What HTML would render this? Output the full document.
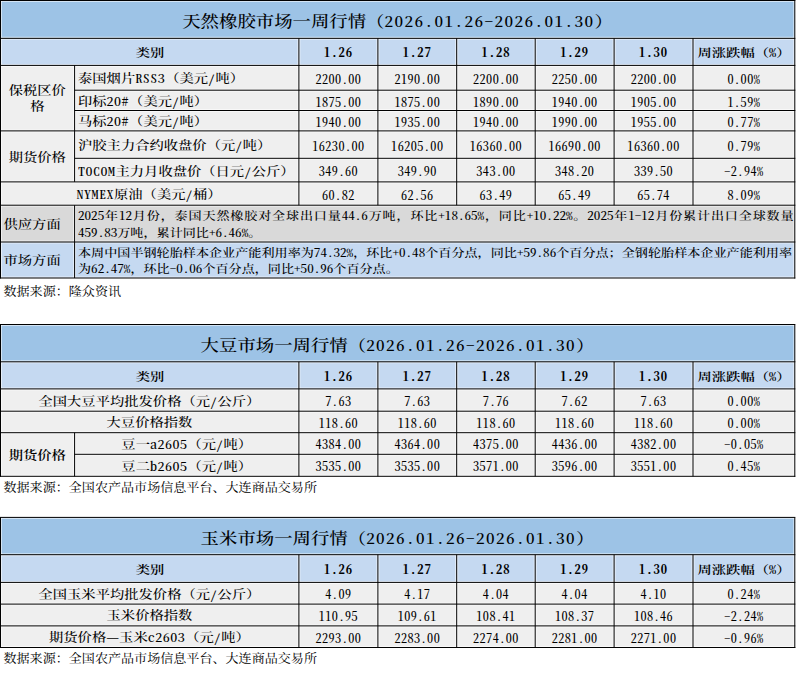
<!DOCTYPE html>
<html><head><meta charset="utf-8"><title>行情</title>
<style>
html,body{margin:0;padding:0;background:#fff;}
body{width:800px;height:673px;position:relative;overflow:hidden;font-family:"Noto Serif CJK SC","Liberation Serif",serif;color:#000;}
.r{position:absolute;}
.t{position:absolute;display:flex;align-items:center;white-space:nowrap;line-height:1;}
.h{font-feature-settings:"hwid" 1;}
.just>span{display:block;width:100%;text-align:justify;text-align-last:justify;}
.ln{position:absolute;left:0;top:0;}
</style></head><body>
<div class="r" style="left:0px;top:0px;width:795px;height:38px;background:#9dc3e6"></div>
<div class="t " style="left:0px;top:1.4px;width:795px;height:38px;justify-content:center;font-size:18.4px;font-weight:500;letter-spacing:0px;"><span style="transform:scaleY(0.86);">天然橡胶市场一周行情（<span class="h" style="font-size:17.2px;letter-spacing:1.4px;">2026.01.26-2026.01.30</span>）</span></div>
<div class="r" style="left:0px;top:38px;width:795px;height:28px;background:#c5d9f1"></div>
<div class="t " style="left:1px;top:38.85px;width:298px;height:27.050000000000004px;justify-content:center;font-size:14.3px;font-weight:600;letter-spacing:0px;"><span style="transform:scaleY(0.82);">类别</span></div>
<div class="t " style="left:298.9px;top:38.550000000000004px;width:79.0px;height:27.050000000000004px;justify-content:center;font-size:13.1px;font-weight:700;letter-spacing:1.2px;"><span style=""><span class="h" style="font-size:12.6px;letter-spacing:0.95px;">1.26</span></span></div>
<div class="t " style="left:377.9px;top:38.550000000000004px;width:78.80000000000001px;height:27.050000000000004px;justify-content:center;font-size:13.1px;font-weight:700;letter-spacing:1.2px;"><span style=""><span class="h" style="font-size:12.6px;letter-spacing:0.95px;">1.27</span></span></div>
<div class="t " style="left:456.7px;top:38.550000000000004px;width:78.50000000000006px;height:27.050000000000004px;justify-content:center;font-size:13.1px;font-weight:700;letter-spacing:1.2px;"><span style=""><span class="h" style="font-size:12.6px;letter-spacing:0.95px;">1.28</span></span></div>
<div class="t " style="left:535.2px;top:38.550000000000004px;width:78.89999999999998px;height:27.050000000000004px;justify-content:center;font-size:13.1px;font-weight:700;letter-spacing:1.2px;"><span style=""><span class="h" style="font-size:12.6px;letter-spacing:0.95px;">1.29</span></span></div>
<div class="t " style="left:614.1px;top:38.550000000000004px;width:78.89999999999998px;height:27.050000000000004px;justify-content:center;font-size:13.1px;font-weight:700;letter-spacing:1.2px;"><span style=""><span class="h" style="font-size:12.6px;letter-spacing:0.95px;">1.30</span></span></div>
<div class="t " style="left:693px;top:38.85px;width:102px;height:27.050000000000004px;justify-content:center;font-size:14.3px;font-weight:600;letter-spacing:0px;"><span style="transform:scaleY(0.82);">周涨跌幅（<span class="h">%</span>）</span></div>
<div class="r" style="left:0px;top:66px;width:795px;height:139px;background:#efefef"></div>
<div class="t " style="left:78px;top:66.0px;width:221px;height:24.799999999999997px;justify-content:flex-start;font-size:14.3px;font-weight:500;letter-spacing:0px;"><span style="transform:scaleY(0.84);">泰国烟片<span class="h" style="font-size:14.0px;letter-spacing:0.5px;">RSS3</span>（美元<span class="h" style="font-size:14.0px;letter-spacing:0.5px;">/</span>吨）</span></div>
<div class="t " style="left:298.9px;top:66.7px;width:79.0px;height:24.799999999999997px;justify-content:center;font-size:12.2px;font-weight:500;letter-spacing:0.45px;"><span style=""><span class="h" style="font-size:12.2px;letter-spacing:0.45px;">2200.00</span></span></div>
<div class="t " style="left:377.9px;top:66.7px;width:78.80000000000001px;height:24.799999999999997px;justify-content:center;font-size:12.2px;font-weight:500;letter-spacing:0.45px;"><span style=""><span class="h" style="font-size:12.2px;letter-spacing:0.45px;">2190.00</span></span></div>
<div class="t " style="left:456.7px;top:66.7px;width:78.50000000000006px;height:24.799999999999997px;justify-content:center;font-size:12.2px;font-weight:500;letter-spacing:0.45px;"><span style=""><span class="h" style="font-size:12.2px;letter-spacing:0.45px;">2200.00</span></span></div>
<div class="t " style="left:535.2px;top:66.7px;width:78.89999999999998px;height:24.799999999999997px;justify-content:center;font-size:12.2px;font-weight:500;letter-spacing:0.45px;"><span style=""><span class="h" style="font-size:12.2px;letter-spacing:0.45px;">2250.00</span></span></div>
<div class="t " style="left:614.1px;top:66.7px;width:78.89999999999998px;height:24.799999999999997px;justify-content:center;font-size:12.2px;font-weight:500;letter-spacing:0.45px;"><span style=""><span class="h" style="font-size:12.2px;letter-spacing:0.45px;">2200.00</span></span></div>
<div class="t " style="left:693.0px;top:66.7px;width:101.79999999999995px;height:24.799999999999997px;justify-content:center;font-size:12.2px;font-weight:500;letter-spacing:0.45px;"><span style=""><span class="h" style="font-size:12.2px;letter-spacing:0.45px;">0.00%</span></span></div>
<div class="t " style="left:78px;top:90.8px;width:221px;height:20.299999999999997px;justify-content:flex-start;font-size:14.3px;font-weight:500;letter-spacing:0px;"><span style="transform:scaleY(0.84);">印标<span class="h" style="font-size:14.0px;letter-spacing:0.5px;">20#</span>（美元<span class="h" style="font-size:14.0px;letter-spacing:0.5px;">/</span>吨）</span></div>
<div class="t " style="left:298.9px;top:91.5px;width:79.0px;height:20.299999999999997px;justify-content:center;font-size:12.2px;font-weight:500;letter-spacing:0.45px;"><span style=""><span class="h" style="font-size:12.2px;letter-spacing:0.45px;">1875.00</span></span></div>
<div class="t " style="left:377.9px;top:91.5px;width:78.80000000000001px;height:20.299999999999997px;justify-content:center;font-size:12.2px;font-weight:500;letter-spacing:0.45px;"><span style=""><span class="h" style="font-size:12.2px;letter-spacing:0.45px;">1875.00</span></span></div>
<div class="t " style="left:456.7px;top:91.5px;width:78.50000000000006px;height:20.299999999999997px;justify-content:center;font-size:12.2px;font-weight:500;letter-spacing:0.45px;"><span style=""><span class="h" style="font-size:12.2px;letter-spacing:0.45px;">1890.00</span></span></div>
<div class="t " style="left:535.2px;top:91.5px;width:78.89999999999998px;height:20.299999999999997px;justify-content:center;font-size:12.2px;font-weight:500;letter-spacing:0.45px;"><span style=""><span class="h" style="font-size:12.2px;letter-spacing:0.45px;">1940.00</span></span></div>
<div class="t " style="left:614.1px;top:91.5px;width:78.89999999999998px;height:20.299999999999997px;justify-content:center;font-size:12.2px;font-weight:500;letter-spacing:0.45px;"><span style=""><span class="h" style="font-size:12.2px;letter-spacing:0.45px;">1905.00</span></span></div>
<div class="t " style="left:693.0px;top:91.5px;width:101.79999999999995px;height:20.299999999999997px;justify-content:center;font-size:12.2px;font-weight:500;letter-spacing:0.45px;"><span style=""><span class="h" style="font-size:12.2px;letter-spacing:0.45px;">1.59%</span></span></div>
<div class="t " style="left:78px;top:111.1px;width:221px;height:20.400000000000006px;justify-content:flex-start;font-size:14.3px;font-weight:500;letter-spacing:0px;"><span style="transform:scaleY(0.84);">马标<span class="h" style="font-size:14.0px;letter-spacing:0.5px;">20#</span>（美元<span class="h" style="font-size:14.0px;letter-spacing:0.5px;">/</span>吨）</span></div>
<div class="t " style="left:298.9px;top:111.8px;width:79.0px;height:20.400000000000006px;justify-content:center;font-size:12.2px;font-weight:500;letter-spacing:0.45px;"><span style=""><span class="h" style="font-size:12.2px;letter-spacing:0.45px;">1940.00</span></span></div>
<div class="t " style="left:377.9px;top:111.8px;width:78.80000000000001px;height:20.400000000000006px;justify-content:center;font-size:12.2px;font-weight:500;letter-spacing:0.45px;"><span style=""><span class="h" style="font-size:12.2px;letter-spacing:0.45px;">1935.00</span></span></div>
<div class="t " style="left:456.7px;top:111.8px;width:78.50000000000006px;height:20.400000000000006px;justify-content:center;font-size:12.2px;font-weight:500;letter-spacing:0.45px;"><span style=""><span class="h" style="font-size:12.2px;letter-spacing:0.45px;">1940.00</span></span></div>
<div class="t " style="left:535.2px;top:111.8px;width:78.89999999999998px;height:20.400000000000006px;justify-content:center;font-size:12.2px;font-weight:500;letter-spacing:0.45px;"><span style=""><span class="h" style="font-size:12.2px;letter-spacing:0.45px;">1990.00</span></span></div>
<div class="t " style="left:614.1px;top:111.8px;width:78.89999999999998px;height:20.400000000000006px;justify-content:center;font-size:12.2px;font-weight:500;letter-spacing:0.45px;"><span style=""><span class="h" style="font-size:12.2px;letter-spacing:0.45px;">1955.00</span></span></div>
<div class="t " style="left:693.0px;top:111.8px;width:101.79999999999995px;height:20.400000000000006px;justify-content:center;font-size:12.2px;font-weight:500;letter-spacing:0.45px;"><span style=""><span class="h" style="font-size:12.2px;letter-spacing:0.45px;">0.77%</span></span></div>
<div class="t " style="left:78px;top:131.5px;width:221px;height:27.400000000000006px;justify-content:flex-start;font-size:14.3px;font-weight:500;letter-spacing:0px;"><span style="transform:scaleY(0.84);">沪胶主力合约收盘价（元<span class="h" style="font-size:14.0px;letter-spacing:0.5px;">/</span>吨）</span></div>
<div class="t " style="left:298.9px;top:132.20000000000002px;width:79.0px;height:27.400000000000006px;justify-content:center;font-size:12.2px;font-weight:500;letter-spacing:0.45px;"><span style=""><span class="h" style="font-size:12.2px;letter-spacing:0.45px;">16230.00</span></span></div>
<div class="t " style="left:377.9px;top:132.20000000000002px;width:78.80000000000001px;height:27.400000000000006px;justify-content:center;font-size:12.2px;font-weight:500;letter-spacing:0.45px;"><span style=""><span class="h" style="font-size:12.2px;letter-spacing:0.45px;">16205.00</span></span></div>
<div class="t " style="left:456.7px;top:132.20000000000002px;width:78.50000000000006px;height:27.400000000000006px;justify-content:center;font-size:12.2px;font-weight:500;letter-spacing:0.45px;"><span style=""><span class="h" style="font-size:12.2px;letter-spacing:0.45px;">16360.00</span></span></div>
<div class="t " style="left:535.2px;top:132.20000000000002px;width:78.89999999999998px;height:27.400000000000006px;justify-content:center;font-size:12.2px;font-weight:500;letter-spacing:0.45px;"><span style=""><span class="h" style="font-size:12.2px;letter-spacing:0.45px;">16690.00</span></span></div>
<div class="t " style="left:614.1px;top:132.20000000000002px;width:78.89999999999998px;height:27.400000000000006px;justify-content:center;font-size:12.2px;font-weight:500;letter-spacing:0.45px;"><span style=""><span class="h" style="font-size:12.2px;letter-spacing:0.45px;">16360.00</span></span></div>
<div class="t " style="left:693.0px;top:132.20000000000002px;width:101.79999999999995px;height:27.400000000000006px;justify-content:center;font-size:12.2px;font-weight:500;letter-spacing:0.45px;"><span style=""><span class="h" style="font-size:12.2px;letter-spacing:0.45px;">0.79%</span></span></div>
<div class="t " style="left:78px;top:158.9px;width:221px;height:23.599999999999994px;justify-content:flex-start;font-size:14.3px;font-weight:500;letter-spacing:0px;"><span style="transform:scaleY(0.84);"><span class="h" style="font-size:14.0px;letter-spacing:0.5px;">TOCOM</span>主力月收盘价（日元<span class="h" style="font-size:14.0px;letter-spacing:0.5px;">/</span>公斤）</span></div>
<div class="t " style="left:298.9px;top:159.60000000000002px;width:79.0px;height:23.599999999999994px;justify-content:center;font-size:12.2px;font-weight:500;letter-spacing:0.45px;"><span style=""><span class="h" style="font-size:12.2px;letter-spacing:0.45px;">349.60</span></span></div>
<div class="t " style="left:377.9px;top:159.60000000000002px;width:78.80000000000001px;height:23.599999999999994px;justify-content:center;font-size:12.2px;font-weight:500;letter-spacing:0.45px;"><span style=""><span class="h" style="font-size:12.2px;letter-spacing:0.45px;">349.90</span></span></div>
<div class="t " style="left:456.7px;top:159.60000000000002px;width:78.50000000000006px;height:23.599999999999994px;justify-content:center;font-size:12.2px;font-weight:500;letter-spacing:0.45px;"><span style=""><span class="h" style="font-size:12.2px;letter-spacing:0.45px;">343.00</span></span></div>
<div class="t " style="left:535.2px;top:159.60000000000002px;width:78.89999999999998px;height:23.599999999999994px;justify-content:center;font-size:12.2px;font-weight:500;letter-spacing:0.45px;"><span style=""><span class="h" style="font-size:12.2px;letter-spacing:0.45px;">348.20</span></span></div>
<div class="t " style="left:614.1px;top:159.60000000000002px;width:78.89999999999998px;height:23.599999999999994px;justify-content:center;font-size:12.2px;font-weight:500;letter-spacing:0.45px;"><span style=""><span class="h" style="font-size:12.2px;letter-spacing:0.45px;">339.50</span></span></div>
<div class="t " style="left:693.0px;top:159.60000000000002px;width:101.79999999999995px;height:23.599999999999994px;justify-content:center;font-size:12.2px;font-weight:500;letter-spacing:0.45px;"><span style=""><span class="h" style="font-size:12.2px;letter-spacing:0.45px;">-2.94%</span></span></div>
<div class="t " style="left:0px;top:65.4px;width:74.6px;height:65.5px;justify-content:center;font-size:14.3px;font-weight:500;letter-spacing:0px;line-height:20.3px;text-align:center"><span style="transform:scaleY(0.84);">保税区价<br>格</span></div>
<div class="t " style="left:0px;top:131.9px;width:74.6px;height:51.0px;justify-content:center;font-size:14.3px;font-weight:500;letter-spacing:0px;"><span style="transform:scaleY(0.84);">期货价格</span></div>
<div class="t " style="left:76.5px;top:182.5px;width:222.5px;height:23.299999999999983px;justify-content:flex-start;font-size:14.3px;font-weight:500;letter-spacing:0px;"><span style="transform:scaleY(0.84);"><span class="h" style="font-size:14.0px;letter-spacing:0.5px;">NYMEX</span>原油（美元<span class="h" style="font-size:14.0px;letter-spacing:0.5px;">/</span>桶）</span></div>
<div class="t " style="left:298.9px;top:183.20000000000002px;width:79.0px;height:23.299999999999983px;justify-content:center;font-size:12.2px;font-weight:500;letter-spacing:0.45px;"><span style=""><span class="h" style="font-size:12.2px;letter-spacing:0.45px;">60.82</span></span></div>
<div class="t " style="left:377.9px;top:183.20000000000002px;width:78.80000000000001px;height:23.299999999999983px;justify-content:center;font-size:12.2px;font-weight:500;letter-spacing:0.45px;"><span style=""><span class="h" style="font-size:12.2px;letter-spacing:0.45px;">62.56</span></span></div>
<div class="t " style="left:456.7px;top:183.20000000000002px;width:78.50000000000006px;height:23.299999999999983px;justify-content:center;font-size:12.2px;font-weight:500;letter-spacing:0.45px;"><span style=""><span class="h" style="font-size:12.2px;letter-spacing:0.45px;">63.49</span></span></div>
<div class="t " style="left:535.2px;top:183.20000000000002px;width:78.89999999999998px;height:23.299999999999983px;justify-content:center;font-size:12.2px;font-weight:500;letter-spacing:0.45px;"><span style=""><span class="h" style="font-size:12.2px;letter-spacing:0.45px;">65.49</span></span></div>
<div class="t " style="left:614.1px;top:183.20000000000002px;width:78.89999999999998px;height:23.299999999999983px;justify-content:center;font-size:12.2px;font-weight:500;letter-spacing:0.45px;"><span style=""><span class="h" style="font-size:12.2px;letter-spacing:0.45px;">65.74</span></span></div>
<div class="t " style="left:693.0px;top:183.20000000000002px;width:101.79999999999995px;height:23.299999999999983px;justify-content:center;font-size:12.2px;font-weight:500;letter-spacing:0.45px;"><span style=""><span class="h" style="font-size:12.2px;letter-spacing:0.45px;">8.09%</span></span></div>
<div class="r" style="left:0px;top:205px;width:795px;height:37px;background:#d9d9d9"></div>
<div class="r" style="left:0px;top:242px;width:795px;height:36px;background:#c5d9f1"></div>
<div class="t " style="left:3.5px;top:206.0px;width:71.1px;height:36.80000000000001px;justify-content:flex-start;font-size:14.3px;font-weight:500;letter-spacing:0px;"><span style="transform:scaleY(0.84);">供应方面</span></div>
<div class="t " style="left:3.5px;top:242.5px;width:71.1px;height:36px;justify-content:flex-start;font-size:14.3px;font-weight:500;letter-spacing:0px;"><span style="transform:scaleY(0.84);">市场方面</span></div>
<div class="t just" style="left:78px;top:207px;width:715.6px;height:18px;justify-content:flex-start;font-size:13.1px;font-weight:500;letter-spacing:0px;"><span style="transform:scaleY(0.85);"><span class="h" style="font-size:13.1px;letter-spacing:0px;">2025</span>年<span class="h" style="font-size:13.1px;letter-spacing:0px;">12</span>月份，泰国天然橡胶对全球出口量<span class="h" style="font-size:13.1px;letter-spacing:0px;">44.6</span>万吨，环比<span class="h" style="font-size:13.1px;letter-spacing:0px;">+18.65%</span>，同比<span class="h" style="font-size:13.1px;letter-spacing:0px;">+10.22%</span>。<span class="h" style="font-size:13.1px;letter-spacing:0px;">2025</span>年<span class="h" style="font-size:13.1px;letter-spacing:0px;">1-12</span>月份累计出口全球数量</span></div>
<div class="t " style="left:78px;top:223.5px;width:715.6px;height:18.0px;justify-content:flex-start;font-size:13.1px;font-weight:500;letter-spacing:0px;"><span style="transform:scaleY(0.85);"><span class="h" style="font-size:13.1px;letter-spacing:0px;">459.83</span>万吨，累计同比<span class="h" style="font-size:13.1px;letter-spacing:0px;">+6.46%</span>。</span></div>
<div class="t just" style="left:78px;top:243.2px;width:714px;height:18.0px;justify-content:flex-start;font-size:13.1px;font-weight:500;letter-spacing:0px;"><span style="transform:scaleY(0.85);">本周中国半钢轮胎样本企业产能利用率为<span class="h" style="font-size:13.1px;letter-spacing:0px;">74.32%</span>，环比<span class="h" style="font-size:13.1px;letter-spacing:0px;">+0.48</span>个百分点，同比<span class="h" style="font-size:13.1px;letter-spacing:0px;">+59.86</span>个百分点；全钢轮胎样本企业产能利用率</span></div>
<div class="t " style="left:78px;top:259.7px;width:714px;height:18.0px;justify-content:flex-start;font-size:13.1px;font-weight:500;letter-spacing:0px;"><span style="transform:scaleY(0.85);">为<span class="h" style="font-size:13.1px;letter-spacing:0px;">62.47%</span>，环比<span class="h" style="font-size:13.1px;letter-spacing:0px;">-0.06</span>个百分点，同比<span class="h" style="font-size:13.1px;letter-spacing:0px;">+50.96</span>个百分点。</span></div>
<div class="t " style="left:3.5px;top:282px;width:396.5px;height:18px;justify-content:flex-start;font-size:13.07px;font-weight:400;letter-spacing:0px;"><span style="transform:scaleY(0.94);">数据来源：隆众资讯</span></div>
<div class="r" style="left:0px;top:324.5px;width:795px;height:37.5px;background:#9dc3e6"></div>
<div class="t " style="left:0px;top:325.9px;width:795px;height:37.30000000000001px;justify-content:center;font-size:18.4px;font-weight:500;letter-spacing:0px;"><span style="transform:scaleY(0.86);">大豆市场一周行情（<span class="h" style="font-size:17.2px;letter-spacing:1.4px;">2026.01.26-2026.01.30</span>）</span></div>
<div class="r" style="left:0px;top:362px;width:795px;height:27px;background:#c5d9f1"></div>
<div class="t " style="left:1px;top:362.3px;width:298px;height:27.099999999999966px;justify-content:center;font-size:14.3px;font-weight:600;letter-spacing:0px;"><span style="transform:scaleY(0.82);">类别</span></div>
<div class="t " style="left:298.9px;top:362.0px;width:79.0px;height:27.099999999999966px;justify-content:center;font-size:13.1px;font-weight:700;letter-spacing:1.2px;"><span style=""><span class="h" style="font-size:12.6px;letter-spacing:0.95px;">1.26</span></span></div>
<div class="t " style="left:377.9px;top:362.0px;width:78.80000000000001px;height:27.099999999999966px;justify-content:center;font-size:13.1px;font-weight:700;letter-spacing:1.2px;"><span style=""><span class="h" style="font-size:12.6px;letter-spacing:0.95px;">1.27</span></span></div>
<div class="t " style="left:456.7px;top:362.0px;width:78.50000000000006px;height:27.099999999999966px;justify-content:center;font-size:13.1px;font-weight:700;letter-spacing:1.2px;"><span style=""><span class="h" style="font-size:12.6px;letter-spacing:0.95px;">1.28</span></span></div>
<div class="t " style="left:535.2px;top:362.0px;width:78.89999999999998px;height:27.099999999999966px;justify-content:center;font-size:13.1px;font-weight:700;letter-spacing:1.2px;"><span style=""><span class="h" style="font-size:12.6px;letter-spacing:0.95px;">1.29</span></span></div>
<div class="t " style="left:614.1px;top:362.0px;width:78.89999999999998px;height:27.099999999999966px;justify-content:center;font-size:13.1px;font-weight:700;letter-spacing:1.2px;"><span style=""><span class="h" style="font-size:12.6px;letter-spacing:0.95px;">1.30</span></span></div>
<div class="t " style="left:693px;top:362.3px;width:102px;height:27.099999999999966px;justify-content:center;font-size:14.3px;font-weight:600;letter-spacing:0px;"><span style="transform:scaleY(0.82);">周涨跌幅（<span class="h">%</span>）</span></div>
<div class="r" style="left:0px;top:389px;width:795px;height:87px;background:#efefef"></div>
<div class="t " style="left:0px;top:389.5px;width:298.9px;height:22.30000000000001px;justify-content:center;font-size:14.3px;font-weight:500;letter-spacing:0px;"><span style="transform:scaleY(0.84);">全国大豆平均批发价格（元<span class="h" style="font-size:14.0px;letter-spacing:0.5px;">/</span>公斤）</span></div>
<div class="t " style="left:298.9px;top:389.7px;width:79.0px;height:22.30000000000001px;justify-content:center;font-size:12.2px;font-weight:500;letter-spacing:0.45px;"><span style=""><span class="h" style="font-size:12.2px;letter-spacing:0.45px;">7.63</span></span></div>
<div class="t " style="left:377.9px;top:389.7px;width:78.80000000000001px;height:22.30000000000001px;justify-content:center;font-size:12.2px;font-weight:500;letter-spacing:0.45px;"><span style=""><span class="h" style="font-size:12.2px;letter-spacing:0.45px;">7.63</span></span></div>
<div class="t " style="left:456.7px;top:389.7px;width:78.50000000000006px;height:22.30000000000001px;justify-content:center;font-size:12.2px;font-weight:500;letter-spacing:0.45px;"><span style=""><span class="h" style="font-size:12.2px;letter-spacing:0.45px;">7.76</span></span></div>
<div class="t " style="left:535.2px;top:389.7px;width:78.89999999999998px;height:22.30000000000001px;justify-content:center;font-size:12.2px;font-weight:500;letter-spacing:0.45px;"><span style=""><span class="h" style="font-size:12.2px;letter-spacing:0.45px;">7.62</span></span></div>
<div class="t " style="left:614.1px;top:389.7px;width:78.89999999999998px;height:22.30000000000001px;justify-content:center;font-size:12.2px;font-weight:500;letter-spacing:0.45px;"><span style=""><span class="h" style="font-size:12.2px;letter-spacing:0.45px;">7.63</span></span></div>
<div class="t " style="left:693.0px;top:389.7px;width:101.79999999999995px;height:22.30000000000001px;justify-content:center;font-size:12.2px;font-weight:500;letter-spacing:0.45px;"><span style=""><span class="h" style="font-size:12.2px;letter-spacing:0.45px;">0.00%</span></span></div>
<div class="t " style="left:0px;top:411.8px;width:298.9px;height:21.5px;justify-content:center;font-size:14.3px;font-weight:500;letter-spacing:0px;"><span style="transform:scaleY(0.84);">大豆价格指数</span></div>
<div class="t " style="left:298.9px;top:412.0px;width:79.0px;height:21.5px;justify-content:center;font-size:12.2px;font-weight:500;letter-spacing:0.45px;"><span style=""><span class="h" style="font-size:12.2px;letter-spacing:0.45px;">118.60</span></span></div>
<div class="t " style="left:377.9px;top:412.0px;width:78.80000000000001px;height:21.5px;justify-content:center;font-size:12.2px;font-weight:500;letter-spacing:0.45px;"><span style=""><span class="h" style="font-size:12.2px;letter-spacing:0.45px;">118.60</span></span></div>
<div class="t " style="left:456.7px;top:412.0px;width:78.50000000000006px;height:21.5px;justify-content:center;font-size:12.2px;font-weight:500;letter-spacing:0.45px;"><span style=""><span class="h" style="font-size:12.2px;letter-spacing:0.45px;">118.60</span></span></div>
<div class="t " style="left:535.2px;top:412.0px;width:78.89999999999998px;height:21.5px;justify-content:center;font-size:12.2px;font-weight:500;letter-spacing:0.45px;"><span style=""><span class="h" style="font-size:12.2px;letter-spacing:0.45px;">118.60</span></span></div>
<div class="t " style="left:614.1px;top:412.0px;width:78.89999999999998px;height:21.5px;justify-content:center;font-size:12.2px;font-weight:500;letter-spacing:0.45px;"><span style=""><span class="h" style="font-size:12.2px;letter-spacing:0.45px;">118.60</span></span></div>
<div class="t " style="left:693.0px;top:412.0px;width:101.79999999999995px;height:21.5px;justify-content:center;font-size:12.2px;font-weight:500;letter-spacing:0.45px;"><span style=""><span class="h" style="font-size:12.2px;letter-spacing:0.45px;">0.00%</span></span></div>
<div class="t " style="left:0px;top:433.7px;width:74.6px;height:43.60000000000002px;justify-content:center;font-size:14.3px;font-weight:600;letter-spacing:0px;"><span style="transform:scaleY(0.84);">期货价格</span></div>
<div class="t " style="left:74.6px;top:433.3px;width:224.29999999999998px;height:21.600000000000023px;justify-content:center;font-size:14.3px;font-weight:500;letter-spacing:0px;"><span style="transform:scaleY(0.84);">豆一<span class="h" style="font-size:14.0px;letter-spacing:0.5px;">a2605</span>（元<span class="h" style="font-size:14.0px;letter-spacing:0.5px;">/</span>吨）</span></div>
<div class="t " style="left:298.9px;top:433.5px;width:79.0px;height:21.600000000000023px;justify-content:center;font-size:12.2px;font-weight:500;letter-spacing:0.45px;"><span style=""><span class="h" style="font-size:12.2px;letter-spacing:0.45px;">4384.00</span></span></div>
<div class="t " style="left:377.9px;top:433.5px;width:78.80000000000001px;height:21.600000000000023px;justify-content:center;font-size:12.2px;font-weight:500;letter-spacing:0.45px;"><span style=""><span class="h" style="font-size:12.2px;letter-spacing:0.45px;">4364.00</span></span></div>
<div class="t " style="left:456.7px;top:433.5px;width:78.50000000000006px;height:21.600000000000023px;justify-content:center;font-size:12.2px;font-weight:500;letter-spacing:0.45px;"><span style=""><span class="h" style="font-size:12.2px;letter-spacing:0.45px;">4375.00</span></span></div>
<div class="t " style="left:535.2px;top:433.5px;width:78.89999999999998px;height:21.600000000000023px;justify-content:center;font-size:12.2px;font-weight:500;letter-spacing:0.45px;"><span style=""><span class="h" style="font-size:12.2px;letter-spacing:0.45px;">4436.00</span></span></div>
<div class="t " style="left:614.1px;top:433.5px;width:78.89999999999998px;height:21.600000000000023px;justify-content:center;font-size:12.2px;font-weight:500;letter-spacing:0.45px;"><span style=""><span class="h" style="font-size:12.2px;letter-spacing:0.45px;">4382.00</span></span></div>
<div class="t " style="left:693.0px;top:433.5px;width:101.79999999999995px;height:21.600000000000023px;justify-content:center;font-size:12.2px;font-weight:500;letter-spacing:0.45px;"><span style=""><span class="h" style="font-size:12.2px;letter-spacing:0.45px;">-0.05%</span></span></div>
<div class="t " style="left:74.6px;top:454.90000000000003px;width:224.29999999999998px;height:22.0px;justify-content:center;font-size:14.3px;font-weight:500;letter-spacing:0px;"><span style="transform:scaleY(0.84);">豆二<span class="h" style="font-size:14.0px;letter-spacing:0.5px;">b2605</span>（元<span class="h" style="font-size:14.0px;letter-spacing:0.5px;">/</span>吨）</span></div>
<div class="t " style="left:298.9px;top:455.1px;width:79.0px;height:22.0px;justify-content:center;font-size:12.2px;font-weight:500;letter-spacing:0.45px;"><span style=""><span class="h" style="font-size:12.2px;letter-spacing:0.45px;">3535.00</span></span></div>
<div class="t " style="left:377.9px;top:455.1px;width:78.80000000000001px;height:22.0px;justify-content:center;font-size:12.2px;font-weight:500;letter-spacing:0.45px;"><span style=""><span class="h" style="font-size:12.2px;letter-spacing:0.45px;">3535.00</span></span></div>
<div class="t " style="left:456.7px;top:455.1px;width:78.50000000000006px;height:22.0px;justify-content:center;font-size:12.2px;font-weight:500;letter-spacing:0.45px;"><span style=""><span class="h" style="font-size:12.2px;letter-spacing:0.45px;">3571.00</span></span></div>
<div class="t " style="left:535.2px;top:455.1px;width:78.89999999999998px;height:22.0px;justify-content:center;font-size:12.2px;font-weight:500;letter-spacing:0.45px;"><span style=""><span class="h" style="font-size:12.2px;letter-spacing:0.45px;">3596.00</span></span></div>
<div class="t " style="left:614.1px;top:455.1px;width:78.89999999999998px;height:22.0px;justify-content:center;font-size:12.2px;font-weight:500;letter-spacing:0.45px;"><span style=""><span class="h" style="font-size:12.2px;letter-spacing:0.45px;">3551.00</span></span></div>
<div class="t " style="left:693.0px;top:455.1px;width:101.79999999999995px;height:22.0px;justify-content:center;font-size:12.2px;font-weight:500;letter-spacing:0.45px;"><span style=""><span class="h" style="font-size:12.2px;letter-spacing:0.45px;">0.45%</span></span></div>
<div class="t " style="left:3.5px;top:478px;width:496.5px;height:18px;justify-content:flex-start;font-size:13.07px;font-weight:400;letter-spacing:0px;"><span style="transform:scaleY(0.94);">数据来源：全国农产品市场信息平台、大连商品交易所</span></div>
<div class="r" style="left:0px;top:517.4px;width:795px;height:37.60000000000002px;background:#9dc3e6"></div>
<div class="t " style="left:0px;top:518.8px;width:795px;height:37.30000000000007px;justify-content:center;font-size:18.4px;font-weight:500;letter-spacing:0px;"><span style="transform:scaleY(0.86);">玉米市场一周行情（<span class="h" style="font-size:17.2px;letter-spacing:1.4px;">2026.01.26-2026.01.30</span>）</span></div>
<div class="r" style="left:0px;top:555px;width:795px;height:27.399999999999977px;background:#c5d9f1"></div>
<div class="t " style="left:1px;top:555.2px;width:298px;height:27.699999999999932px;justify-content:center;font-size:14.3px;font-weight:600;letter-spacing:0px;"><span style="transform:scaleY(0.82);">类别</span></div>
<div class="t " style="left:298.9px;top:554.9000000000001px;width:79.0px;height:27.699999999999932px;justify-content:center;font-size:13.1px;font-weight:700;letter-spacing:1.2px;"><span style=""><span class="h" style="font-size:12.6px;letter-spacing:0.95px;">1.26</span></span></div>
<div class="t " style="left:377.9px;top:554.9000000000001px;width:78.80000000000001px;height:27.699999999999932px;justify-content:center;font-size:13.1px;font-weight:700;letter-spacing:1.2px;"><span style=""><span class="h" style="font-size:12.6px;letter-spacing:0.95px;">1.27</span></span></div>
<div class="t " style="left:456.7px;top:554.9000000000001px;width:78.50000000000006px;height:27.699999999999932px;justify-content:center;font-size:13.1px;font-weight:700;letter-spacing:1.2px;"><span style=""><span class="h" style="font-size:12.6px;letter-spacing:0.95px;">1.28</span></span></div>
<div class="t " style="left:535.2px;top:554.9000000000001px;width:78.89999999999998px;height:27.699999999999932px;justify-content:center;font-size:13.1px;font-weight:700;letter-spacing:1.2px;"><span style=""><span class="h" style="font-size:12.6px;letter-spacing:0.95px;">1.29</span></span></div>
<div class="t " style="left:614.1px;top:554.9000000000001px;width:78.89999999999998px;height:27.699999999999932px;justify-content:center;font-size:13.1px;font-weight:700;letter-spacing:1.2px;"><span style=""><span class="h" style="font-size:12.6px;letter-spacing:0.95px;">1.30</span></span></div>
<div class="t " style="left:693px;top:555.2px;width:102px;height:27.699999999999932px;justify-content:center;font-size:14.3px;font-weight:600;letter-spacing:0px;"><span style="transform:scaleY(0.82);">周涨跌幅（<span class="h">%</span>）</span></div>
<div class="r" style="left:0px;top:582.4px;width:795px;height:65.10000000000002px;background:#efefef"></div>
<div class="t " style="left:0px;top:583.0px;width:298.9px;height:21.700000000000045px;justify-content:center;font-size:14.3px;font-weight:500;letter-spacing:0px;"><span style="transform:scaleY(0.84);">全国玉米平均批发价格（元<span class="h" style="font-size:14.0px;letter-spacing:0.5px;">/</span>公斤）</span></div>
<div class="t " style="left:298.9px;top:583.6999999999999px;width:79.0px;height:21.700000000000045px;justify-content:center;font-size:12.2px;font-weight:500;letter-spacing:0.45px;"><span style=""><span class="h" style="font-size:12.2px;letter-spacing:0.45px;">4.09</span></span></div>
<div class="t " style="left:377.9px;top:583.6999999999999px;width:78.80000000000001px;height:21.700000000000045px;justify-content:center;font-size:12.2px;font-weight:500;letter-spacing:0.45px;"><span style=""><span class="h" style="font-size:12.2px;letter-spacing:0.45px;">4.17</span></span></div>
<div class="t " style="left:456.7px;top:583.6999999999999px;width:78.50000000000006px;height:21.700000000000045px;justify-content:center;font-size:12.2px;font-weight:500;letter-spacing:0.45px;"><span style=""><span class="h" style="font-size:12.2px;letter-spacing:0.45px;">4.04</span></span></div>
<div class="t " style="left:535.2px;top:583.6999999999999px;width:78.89999999999998px;height:21.700000000000045px;justify-content:center;font-size:12.2px;font-weight:500;letter-spacing:0.45px;"><span style=""><span class="h" style="font-size:12.2px;letter-spacing:0.45px;">4.04</span></span></div>
<div class="t " style="left:614.1px;top:583.6999999999999px;width:78.89999999999998px;height:21.700000000000045px;justify-content:center;font-size:12.2px;font-weight:500;letter-spacing:0.45px;"><span style=""><span class="h" style="font-size:12.2px;letter-spacing:0.45px;">4.10</span></span></div>
<div class="t " style="left:693.0px;top:583.6999999999999px;width:101.79999999999995px;height:21.700000000000045px;justify-content:center;font-size:12.2px;font-weight:500;letter-spacing:0.45px;"><span style=""><span class="h" style="font-size:12.2px;letter-spacing:0.45px;">0.24%</span></span></div>
<div class="t " style="left:0px;top:604.7px;width:298.9px;height:21.799999999999955px;justify-content:center;font-size:14.3px;font-weight:500;letter-spacing:0px;"><span style="transform:scaleY(0.84);">玉米价格指数</span></div>
<div class="t " style="left:298.9px;top:605.4px;width:79.0px;height:21.799999999999955px;justify-content:center;font-size:12.2px;font-weight:500;letter-spacing:0.45px;"><span style=""><span class="h" style="font-size:12.2px;letter-spacing:0.45px;">110.95</span></span></div>
<div class="t " style="left:377.9px;top:605.4px;width:78.80000000000001px;height:21.799999999999955px;justify-content:center;font-size:12.2px;font-weight:500;letter-spacing:0.45px;"><span style=""><span class="h" style="font-size:12.2px;letter-spacing:0.45px;">109.61</span></span></div>
<div class="t " style="left:456.7px;top:605.4px;width:78.50000000000006px;height:21.799999999999955px;justify-content:center;font-size:12.2px;font-weight:500;letter-spacing:0.45px;"><span style=""><span class="h" style="font-size:12.2px;letter-spacing:0.45px;">108.41</span></span></div>
<div class="t " style="left:535.2px;top:605.4px;width:78.89999999999998px;height:21.799999999999955px;justify-content:center;font-size:12.2px;font-weight:500;letter-spacing:0.45px;"><span style=""><span class="h" style="font-size:12.2px;letter-spacing:0.45px;">108.37</span></span></div>
<div class="t " style="left:614.1px;top:605.4px;width:78.89999999999998px;height:21.799999999999955px;justify-content:center;font-size:12.2px;font-weight:500;letter-spacing:0.45px;"><span style=""><span class="h" style="font-size:12.2px;letter-spacing:0.45px;">108.46</span></span></div>
<div class="t " style="left:693.0px;top:605.4px;width:101.79999999999995px;height:21.799999999999955px;justify-content:center;font-size:12.2px;font-weight:500;letter-spacing:0.45px;"><span style=""><span class="h" style="font-size:12.2px;letter-spacing:0.45px;">-2.24%</span></span></div>
<div class="t " style="left:0px;top:626.5px;width:298.9px;height:21.600000000000023px;justify-content:center;font-size:14.3px;font-weight:500;letter-spacing:0px;"><span style="transform:scaleY(0.84);">期货价格—玉米<span class="h" style="font-size:14.0px;letter-spacing:0.5px;">c2603</span>（元<span class="h" style="font-size:14.0px;letter-spacing:0.5px;">/</span>吨）</span></div>
<div class="t " style="left:298.9px;top:627.1999999999999px;width:79.0px;height:21.600000000000023px;justify-content:center;font-size:12.2px;font-weight:500;letter-spacing:0.45px;"><span style=""><span class="h" style="font-size:12.2px;letter-spacing:0.45px;">2293.00</span></span></div>
<div class="t " style="left:377.9px;top:627.1999999999999px;width:78.80000000000001px;height:21.600000000000023px;justify-content:center;font-size:12.2px;font-weight:500;letter-spacing:0.45px;"><span style=""><span class="h" style="font-size:12.2px;letter-spacing:0.45px;">2283.00</span></span></div>
<div class="t " style="left:456.7px;top:627.1999999999999px;width:78.50000000000006px;height:21.600000000000023px;justify-content:center;font-size:12.2px;font-weight:500;letter-spacing:0.45px;"><span style=""><span class="h" style="font-size:12.2px;letter-spacing:0.45px;">2274.00</span></span></div>
<div class="t " style="left:535.2px;top:627.1999999999999px;width:78.89999999999998px;height:21.600000000000023px;justify-content:center;font-size:12.2px;font-weight:500;letter-spacing:0.45px;"><span style=""><span class="h" style="font-size:12.2px;letter-spacing:0.45px;">2281.00</span></span></div>
<div class="t " style="left:614.1px;top:627.1999999999999px;width:78.89999999999998px;height:21.600000000000023px;justify-content:center;font-size:12.2px;font-weight:500;letter-spacing:0.45px;"><span style=""><span class="h" style="font-size:12.2px;letter-spacing:0.45px;">2271.00</span></span></div>
<div class="t " style="left:693.0px;top:627.1999999999999px;width:101.79999999999995px;height:21.600000000000023px;justify-content:center;font-size:12.2px;font-weight:500;letter-spacing:0.45px;"><span style=""><span class="h" style="font-size:12.2px;letter-spacing:0.45px;">-0.96%</span></span></div>
<div class="t " style="left:3.5px;top:649px;width:496.5px;height:18px;justify-content:flex-start;font-size:13.07px;font-weight:400;letter-spacing:0px;"><span style="transform:scaleY(0.94);">数据来源：全国农产品市场信息平台、大连商品交易所</span></div>
<svg class="ln" width="800" height="673" viewBox="0 0 800 673"><g stroke="#fff" stroke-opacity="0.55" transform="scale(1)" style="stroke-width:3px"><line x1="0" y1="0.5" x2="795.3" y2="0.5" /><line x1="0" y1="38.35" x2="795.3" y2="38.35" /><line x1="0" y1="65.4" x2="795.3" y2="65.4" /><line x1="74.6" y1="90.2" x2="795.3" y2="90.2" /><line x1="74.6" y1="110.5" x2="795.3" y2="110.5" /><line x1="74.6" y1="158.3" x2="795.3" y2="158.3" /><line x1="0" y1="130.9" x2="795.3" y2="130.9" /><line x1="0" y1="181.9" x2="795.3" y2="181.9" /><line x1="0" y1="205.2" x2="795.3" y2="205.2" /><line x1="0" y1="242" x2="795.3" y2="242" /><line x1="0" y1="278" x2="795.3" y2="278" /><line x1="0.5" y1="0" x2="0.5" y2="278.5" /><line x1="794.8" y1="0" x2="794.8" y2="278.5" /><line x1="74.6" y1="65.4" x2="74.6" y2="181.9" /><line x1="74.6" y1="205.2" x2="74.6" y2="278" /><line x1="298.9" y1="38.35" x2="298.9" y2="205.2" /><line x1="377.9" y1="38.35" x2="377.9" y2="205.2" /><line x1="456.7" y1="38.35" x2="456.7" y2="205.2" /><line x1="535.2" y1="38.35" x2="535.2" y2="205.2" /><line x1="614.1" y1="38.35" x2="614.1" y2="205.2" /><line x1="693.0" y1="38.35" x2="693.0" y2="205.2" /><line x1="0" y1="324.5" x2="795.3" y2="324.5" /><line x1="0" y1="361.8" x2="795.3" y2="361.8" /><line x1="0" y1="388.9" x2="795.3" y2="388.9" /><line x1="0" y1="411.2" x2="795.3" y2="411.2" /><line x1="0" y1="432.7" x2="795.3" y2="432.7" /><line x1="0" y1="476.3" x2="795.3" y2="476.3" /><line x1="74.6" y1="454.3" x2="795.3" y2="454.3" /><line x1="0.5" y1="324.5" x2="0.5" y2="476.8" /><line x1="794.8" y1="324.5" x2="794.8" y2="476.8" /><line x1="74.6" y1="432.7" x2="74.6" y2="476.3" /><line x1="298.9" y1="361.8" x2="298.9" y2="476.3" /><line x1="377.9" y1="361.8" x2="377.9" y2="476.3" /><line x1="456.7" y1="361.8" x2="456.7" y2="476.3" /><line x1="535.2" y1="361.8" x2="535.2" y2="476.3" /><line x1="614.1" y1="361.8" x2="614.1" y2="476.3" /><line x1="693.0" y1="361.8" x2="693.0" y2="476.3" /><line x1="0" y1="517.4" x2="795.3" y2="517.4" /><line x1="0" y1="554.7" x2="795.3" y2="554.7" /><line x1="0" y1="582.4" x2="795.3" y2="582.4" /><line x1="0" y1="604.1" x2="795.3" y2="604.1" /><line x1="0" y1="625.9" x2="795.3" y2="625.9" /><line x1="0" y1="647.5" x2="795.3" y2="647.5" /><line x1="0.5" y1="517.4" x2="0.5" y2="648" /><line x1="794.8" y1="517.4" x2="794.8" y2="648" /><line x1="298.9" y1="554.7" x2="298.9" y2="647.5" /><line x1="377.9" y1="554.7" x2="377.9" y2="647.5" /><line x1="456.7" y1="554.7" x2="456.7" y2="647.5" /><line x1="535.2" y1="554.7" x2="535.2" y2="647.5" /><line x1="614.1" y1="554.7" x2="614.1" y2="647.5" /><line x1="693.0" y1="554.7" x2="693.0" y2="647.5" /></g><g stroke="#000" shape-rendering="geometricPrecision"><line x1="0" y1="0.5" x2="795.3" y2="0.5" stroke-width="1.0"/><line x1="0" y1="38.35" x2="795.3" y2="38.35" stroke-width="1.0"/><line x1="0" y1="65.4" x2="795.3" y2="65.4" stroke-width="1.0"/><line x1="74.6" y1="90.2" x2="795.3" y2="90.2" stroke-width="1.0"/><line x1="74.6" y1="110.5" x2="795.3" y2="110.5" stroke-width="1.0"/><line x1="74.6" y1="158.3" x2="795.3" y2="158.3" stroke-width="1.0"/><line x1="0" y1="130.9" x2="795.3" y2="130.9" stroke-width="1.0"/><line x1="0" y1="181.9" x2="795.3" y2="181.9" stroke-width="1.0"/><line x1="0" y1="205.2" x2="795.3" y2="205.2" stroke-width="1.0"/><line x1="0" y1="242" x2="795.3" y2="242" stroke-width="1.0"/><line x1="0" y1="278" x2="795.3" y2="278" stroke-width="1.0"/><line x1="0.5" y1="0" x2="0.5" y2="278.5" stroke-width="1.0"/><line x1="794.8" y1="0" x2="794.8" y2="278.5" stroke-width="1.0"/><line x1="74.6" y1="65.4" x2="74.6" y2="181.9" stroke-width="1.0"/><line x1="74.6" y1="205.2" x2="74.6" y2="278" stroke-width="1.0"/><line x1="298.9" y1="38.35" x2="298.9" y2="205.2" stroke-width="1.0"/><line x1="377.9" y1="38.35" x2="377.9" y2="205.2" stroke-width="1.0"/><line x1="456.7" y1="38.35" x2="456.7" y2="205.2" stroke-width="1.0"/><line x1="535.2" y1="38.35" x2="535.2" y2="205.2" stroke-width="1.0"/><line x1="614.1" y1="38.35" x2="614.1" y2="205.2" stroke-width="1.0"/><line x1="693.0" y1="38.35" x2="693.0" y2="205.2" stroke-width="1.0"/><line x1="0" y1="324.5" x2="795.3" y2="324.5" stroke-width="1.0"/><line x1="0" y1="361.8" x2="795.3" y2="361.8" stroke-width="1.0"/><line x1="0" y1="388.9" x2="795.3" y2="388.9" stroke-width="1.0"/><line x1="0" y1="411.2" x2="795.3" y2="411.2" stroke-width="1.0"/><line x1="0" y1="432.7" x2="795.3" y2="432.7" stroke-width="1.0"/><line x1="0" y1="476.3" x2="795.3" y2="476.3" stroke-width="1.0"/><line x1="74.6" y1="454.3" x2="795.3" y2="454.3" stroke-width="1.0"/><line x1="0.5" y1="324.5" x2="0.5" y2="476.8" stroke-width="1.0"/><line x1="794.8" y1="324.5" x2="794.8" y2="476.8" stroke-width="1.0"/><line x1="74.6" y1="432.7" x2="74.6" y2="476.3" stroke-width="1.0"/><line x1="298.9" y1="361.8" x2="298.9" y2="476.3" stroke-width="1.0"/><line x1="377.9" y1="361.8" x2="377.9" y2="476.3" stroke-width="1.0"/><line x1="456.7" y1="361.8" x2="456.7" y2="476.3" stroke-width="1.0"/><line x1="535.2" y1="361.8" x2="535.2" y2="476.3" stroke-width="1.0"/><line x1="614.1" y1="361.8" x2="614.1" y2="476.3" stroke-width="1.0"/><line x1="693.0" y1="361.8" x2="693.0" y2="476.3" stroke-width="1.0"/><line x1="0" y1="517.4" x2="795.3" y2="517.4" stroke-width="1.0"/><line x1="0" y1="554.7" x2="795.3" y2="554.7" stroke-width="1.0"/><line x1="0" y1="582.4" x2="795.3" y2="582.4" stroke-width="1.0"/><line x1="0" y1="604.1" x2="795.3" y2="604.1" stroke-width="1.0"/><line x1="0" y1="625.9" x2="795.3" y2="625.9" stroke-width="1.0"/><line x1="0" y1="647.5" x2="795.3" y2="647.5" stroke-width="1.0"/><line x1="0.5" y1="517.4" x2="0.5" y2="648" stroke-width="1.0"/><line x1="794.8" y1="517.4" x2="794.8" y2="648" stroke-width="1.0"/><line x1="298.9" y1="554.7" x2="298.9" y2="647.5" stroke-width="1.0"/><line x1="377.9" y1="554.7" x2="377.9" y2="647.5" stroke-width="1.0"/><line x1="456.7" y1="554.7" x2="456.7" y2="647.5" stroke-width="1.0"/><line x1="535.2" y1="554.7" x2="535.2" y2="647.5" stroke-width="1.0"/><line x1="614.1" y1="554.7" x2="614.1" y2="647.5" stroke-width="1.0"/><line x1="693.0" y1="554.7" x2="693.0" y2="647.5" stroke-width="1.0"/></g></svg>
</body></html>
